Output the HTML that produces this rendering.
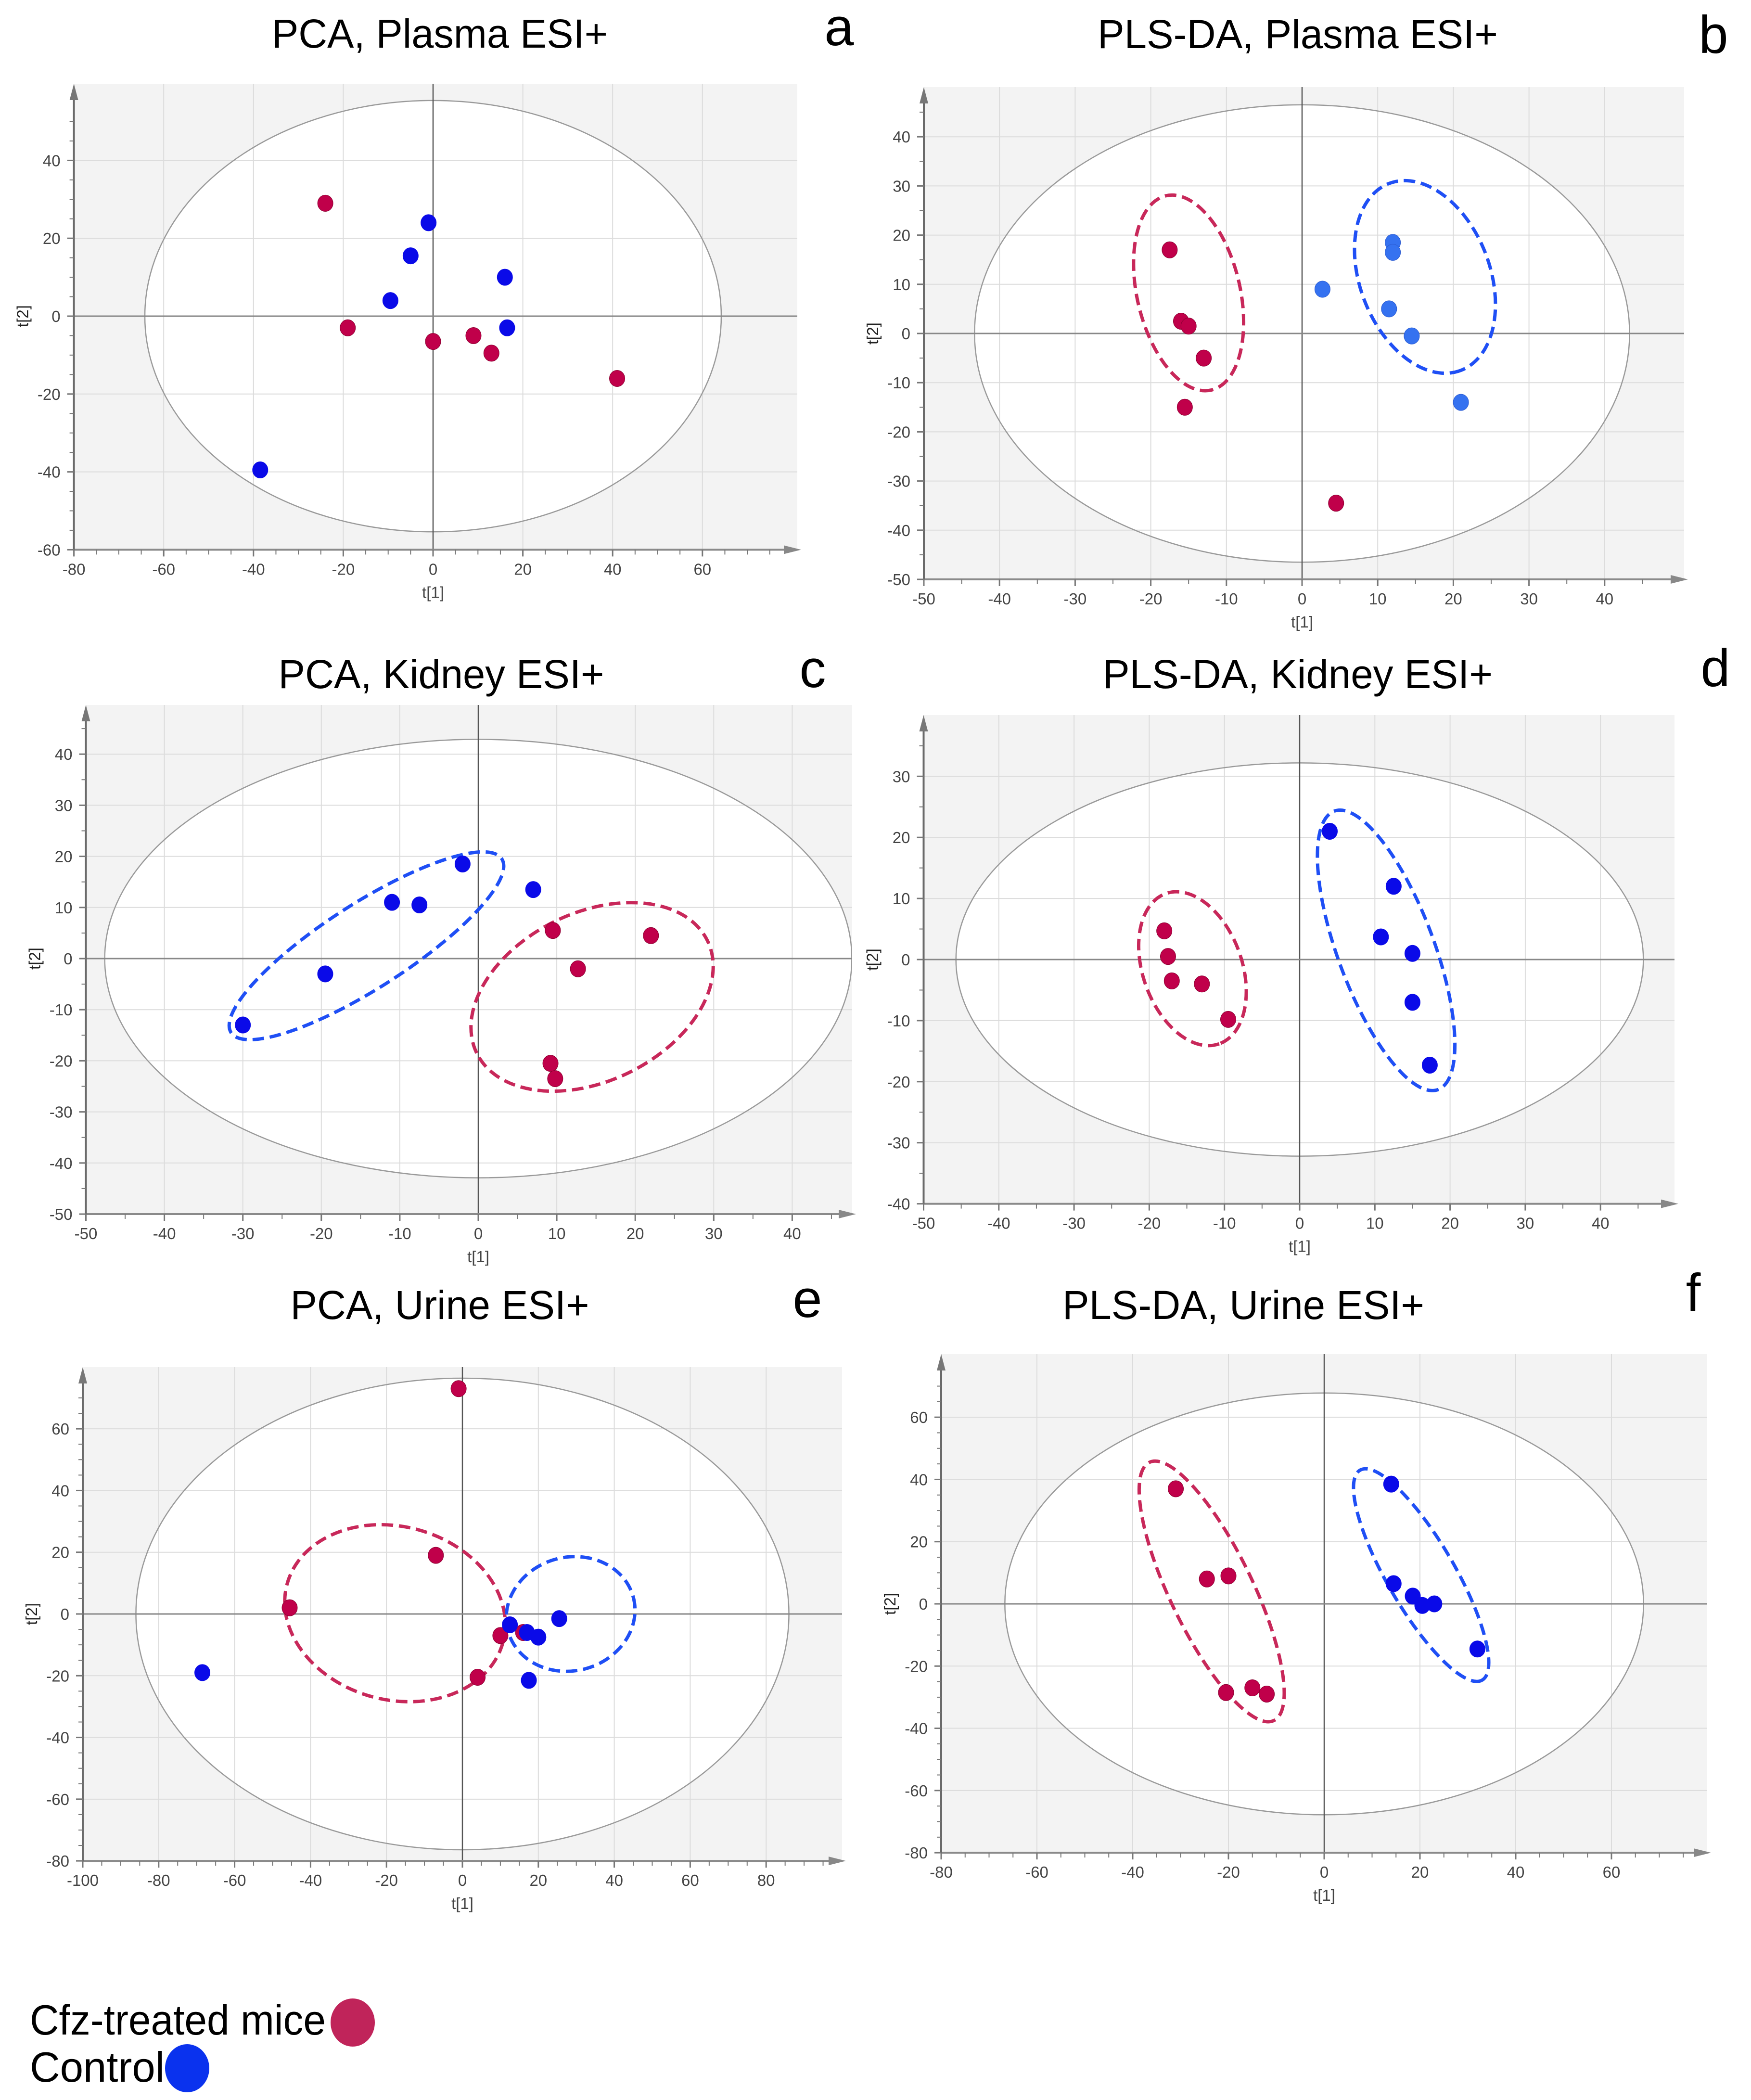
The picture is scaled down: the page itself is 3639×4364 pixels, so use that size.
<!DOCTYPE html>
<html><head><meta charset="utf-8"><style>
html,body{margin:0;padding:0;background:#fff;}
svg{display:block;font-family:"Liberation Sans",Arial,sans-serif;}
</style></head><body>
<svg id="fig" width="3639" height="4364" viewBox="0 0 3639 4364" xmlns="http://www.w3.org/2000/svg">
<rect x="0" y="0" width="3639" height="4364" fill="#fff"/>
<g>
  <text x="62" y="4228" font-size="88" fill="#000" textLength="615" lengthAdjust="spacingAndGlyphs">Cfz-treated mice</text>
  <ellipse cx="733" cy="4203" rx="46" ry="50" fill="#c0245a"/>
  <text x="62" y="4326" font-size="88" fill="#000" textLength="280" lengthAdjust="spacingAndGlyphs">Control</text>
  <ellipse cx="389" cy="4298" rx="46" ry="50" fill="#0a32ee"/>
</g>
</svg>
<script>
// ---- Data: panel a (PCA, Plasma) ----
const aRedX=[-24,-19,0,9,13,41];
const aRedY=[29,-3,-6.5,-5,-9.5,-16];
const aBlueX=[-1,-5,-9.5,16,16.5,-38.5];
const aBlueY=[24,15.5,4,10,-3,-39.5];
const aXTicks=[-80,-60,-40,-20,0,20,40,60];
const aYTicks=[-60,-40,-20,0,20,40];
const aT2=[64.2,55.4];
// ---- panel b (PLS-DA, Plasma) ----
const bRedX=[-17.5,-16,-15,-13,-15.5,4.5];
const bRedY=[17,2.5,1.5,-5,-15,-34.5];
const bBlueX=[12,12,2.7,11.5,14.5,21];
const bBlueY=[18.5,16.5,9,5,-0.5,-14];
const bXTicks=[-50,-40,-30,-20,-10,0,10,20,30,40];
const bYTicks=[-50,-40,-30,-20,-10,0,10,20,30,40];
const bT2=[43.3,46.5];
const bRedGroup=[-18,28,-12,-11.5];
const bBlueGroup=[11.5,30.5,21,-7.5];
// ---- panel c (PCA, Kidney) ----
const cRedX=[9.5,22,12.7,9.2,9.8];
const cRedY=[5.5,4.5,-2,-20.5,-23.5];
const cBlueX=[-30,-19.5,-11,-7.5,-2,7];
const cBlueY=[-13,-3,11,10.5,18.5,13.5];
const cXTicks=[-50,-40,-30,-20,-10,0,10,20,30,40];
const cYTicks=[-50,-40,-30,-20,-10,0,10,20,30,40];
const cT2=[47.6,42.9];
const cRedGroup=[29.2,3.5,-0.2,-18.5];
const cBlueGroup=[-31.5,-14.5,3,19.5];
// ---- panel d (PLS-DA, Kidney) ----
const dRedX=[-18,-17.5,-17,-13,-9.5];
const dRedY=[4.7,0.5,-3.5,-4,-9.8];
const dBlueX=[4,12.5,10.8,15,15,17.3];
const dBlueY=[21,12,3.7,1,-7,-17.3];
const dXTicks=[-50,-40,-30,-20,-10,0,10,20,30,40];
const dYTicks=[-40,-30,-20,-10,0,10,20,30];
const dT2=[45.7,32.2];
const dRedGroup=[-17.8,10.8,-10.7,-13.8];
const dBlueGroup=[4.6,24.3,18.4,-21.3];
// ---- panel e (PCA, Urine) ----
const eRedX=[-1,-7,-45.5,10,16,4];
const eRedY=[73,19,2,-7,-6,-20.5];
const eBlueX=[-68.5,12.5,17,20,25.5,17.5];
const eBlueY=[-19,-3.5,-6,-7.5,-1.5,-21.5];
const eXTicks=[-100,-80,-60,-40,-20,0,20,40,60,80];
const eYTicks=[-80,-60,-40,-20,0,20,40,60];
const eT2=[86,76.4];
const eRedGroup=[-46.2,9.6,10.7,-9.1];
const eBlueGroup=[12,-5.5,45,5.5];
// ---- panel f (PLS-DA, Urine) ----
const fRedX=[-31,-24.5,-20,-20.5,-15,-12];
const fRedY=[37,8,9,-28.5,-27,-29];
const fBlueX=[14,14.5,18.5,20.5,23,32];
const fBlueY=[38.5,6.5,2.5,-0.5,0,-14.5];
const fXTicks=[-80,-60,-40,-20,0,20,40,60];
const fYTicks=[-80,-60,-40,-20,0,20,40,60];
const fT2=[66.7,67.8];
const fRedGroup=[-36.5,45.5,-10.5,-37.5];
const fBlueGroup=[7.5,43,33,-24.5];

const NS='http://www.w3.org/2000/svg';
const svg=document.getElementById('fig');
function mk(tag,attrs,parent){const e=document.createElementNS(NS,tag);for(const k in attrs)e.setAttribute(k,attrs[k]);(parent||svg).appendChild(e);return e;}

const panels=[
 {id:'a',title:'PCA, Plasma ESI+',tx:914,tw:698,ty:99,lx:1744,ly:94,x0:900,sx:9.33,y0:657,sy:8.09,top:174,right:1657,xt:aXTicks,yt:aYTicks,t2:aT2,rx:aRedX,ry:aRedY,bx:aBlueX,by:aBlueY,blue:'#0a0ae8',rg:null,bg:null,xminor:4,yminor:4},
 {id:'b',title:'PLS-DA, Plasma ESI+',tx:2697,tw:832,ty:100,lx:3561,ly:110,x0:2706,sx:15.72,y0:693,sy:10.22,top:181,right:3500,xt:bXTicks,yt:bYTicks,t2:bT2,rx:bRedX,ry:bRedY,bx:bBlueX,by:bBlueY,blue:'#3572f0',rg:bRedGroup,rgw:107,bg:bBlueGroup,bgw:135,xminor:2,yminor:2},
 {id:'c',title:'PCA, Kidney ESI+',tx:917,tw:677,ty:1430,lx:1689,ly:1428,x0:994,sx:16.31,y0:1992,sy:10.62,top:1465,right:1771,xt:cXTicks,yt:cYTicks,t2:cT2,rx:cRedX,ry:cRedY,bx:cBlueX,by:cBlueY,blue:'#0a0ae8',rg:cRedGroup,rgw:175,bg:cBlueGroup,bgw:88,xminor:2,yminor:2},
 {id:'d',title:'PLS-DA, Kidney ESI+',tx:2697,tw:810,ty:1430,lx:3565,ly:1426,x0:2701,sx:15.63,y0:1994,sy:12.69,top:1486,right:3480,xt:dXTicks,yt:dYTicks,t2:dT2,rx:dRedX,ry:dRedY,bx:dBlueX,by:dBlueY,blue:'#0a0ae8',rg:dRedGroup,rgw:103,bg:dBlueGroup,bgw:100,xminor:2,yminor:2},
 {id:'e',title:'PCA, Urine ESI+',tx:914,tw:621,ty:2741,lx:1678,ly:2737,x0:961,sx:7.89,y0:3354,sy:6.414,top:2841,right:1750,xt:eXTicks,yt:eYTicks,t2:eT2,rx:eRedX,ry:eRedY,bx:eBlueX,by:eBlueY,blue:'#0a0ae8',rg:eRedGroup,rgw:180,bg:eBlueGroup,bgw:118,xminor:4,yminor:4},
 {id:'f',title:'PLS-DA, Urine ESI+',tx:2584,tw:752,ty:2741,lx:3519,ly:2724,x0:2752,sx:9.95,y0:3333,sy:6.464,top:2814,right:3548,xt:fXTicks,yt:fYTicks,t2:fT2,rx:fRedX,ry:fRedY,bx:fBlueX,by:fBlueY,blue:'#0a0ae8',rg:fRedGroup,rgw:86,bg:fBlueGroup,bgw:70,xminor:4,yminor:4}
];

panels.forEach(p=>{
  const X=v=>p.x0+v*p.sx, Y=v=>p.y0-v*p.sy;
  const g=mk('g',{});
  
  
  const left=X(p.xt[0]), bottom=Y(p.yt[0]);
  const clipId='clip'+p.id;
  const cp=mk('clipPath',{id:clipId},g);
  mk('rect',{x:left,y:p.top,width:p.right-left,height:bottom-p.top},cp);
  const bg=mk('rect',{x:left,y:p.top,width:p.right-left,height:bottom-p.top,fill:'#f3f3f3'},g);
  
  
  const inner=mk('g',{'clip-path':'url(#'+clipId+')'},g);
  const t2=mk('ellipse',{cx:X(0),cy:Y(0),rx:p.t2[0]*p.sx,ry:p.t2[1]*p.sy,fill:'#fff'},inner);
  
  
  p.xt.forEach(v=>{ if(v!==0){const l=mk('line',{x1:X(v),x2:X(v),y1:p.top,y2:bottom,stroke:'#dcdcdc','stroke-width':2},inner);
    
    }});
  p.yt.forEach(v=>{ if(v!==0){const l=mk('line',{x1:left,x2:p.right,y1:Y(v),y2:Y(v),stroke:'#dcdcdc','stroke-width':2},inner);
    
    }});
  const t2s=mk('ellipse',{cx:X(0),cy:Y(0),rx:p.t2[0]*p.sx,ry:p.t2[1]*p.sy,fill:'none',stroke:'#9a9a9a','stroke-width':2.5},inner);
  
  
  const zx=mk('line',{x1:X(0),x2:X(0),y1:p.top,y2:bottom,stroke:'#555','stroke-width':2.5},inner);
  
  
  const zy=mk('line',{x1:left,x2:p.right,y1:Y(0),y2:Y(0),stroke:'#888','stroke-width':3},inner);
  
  
  const ax=mk('line',{x1:left,x2:p.right-10,y1:bottom,y2:bottom,stroke:'#8a8a8a','stroke-width':4},g);
  
  
  const ay=mk('line',{x1:left,x2:left,y1:p.top+30,y2:bottom,stroke:'#6a6a6a','stroke-width':4},g);
  
  
  const arx=mk('polygon',{points:`${p.right+8},${bottom} ${p.right-28},${bottom-9} ${p.right-28},${bottom+9}`,fill:'#888'},g);
  
  
  const ary=mk('polygon',{points:`${left},${p.top} ${left-9},${p.top+34} ${left+9},${p.top+34}`,fill:'#777'},g);
  
  
  const xs=p.xt[1]-p.xt[0], ys=p.yt[1]-p.yt[0];
  for(let v=p.xt[0]; X(v)<p.right-30; v+=xs/p.xminor){
    const major=Math.abs((v-p.xt[0])/xs-Math.round((v-p.xt[0])/xs))<1e-6;
    const t=mk('line',{x1:X(v),x2:X(v),y1:bottom,y2:bottom+(major?14:10),stroke:'#777','stroke-width':major?3:2},g);
    
    
  }
  for(let v=p.yt[0]; Y(v)>p.top+40; v+=ys/p.yminor){
    const major=Math.abs((v-p.yt[0])/ys-Math.round((v-p.yt[0])/ys))<1e-6;
    const t=mk('line',{x1:left-(major?14:9),x2:left,y1:Y(v),y2:Y(v),stroke:'#777','stroke-width':major?3:2},g);
    
    
  }
  p.xt.forEach(v=>{const t=mk('text',{x:X(v),y:bottom+52,'font-size':33,fill:'#444','text-anchor':'middle'},g);t.textContent=v;
    
    });
  p.yt.forEach(v=>{const t=mk('text',{x:left-28,y:Y(v)+12,'font-size':33,fill:'#444','text-anchor':'end'},g);t.textContent=v;
    
    });
  const xt=mk('text',{x:X(0),y:bottom+100,'font-size':33,fill:'#444','text-anchor':'middle'},g);xt.textContent='t[1]';
  
  
  const yx=left-95, yy=Y(0);
  const yt=mk('text',{x:yx,y:yy,'font-size':33,fill:'#222','text-anchor':'middle',transform:`rotate(-90 ${yx} ${yy})`},g);yt.textContent='t[2]';
  
  
  function group(arr,w,color,name){
    if(!arr) return;
    const x1=X(arr[0]),y1=Y(arr[1]),x2=X(arr[2]),y2=Y(arr[3]);
    const cx=(x1+x2)/2, cy=(y1+y2)/2, L=Math.hypot(x2-x1,y2-y1)/2, ang=Math.atan2(y2-y1,x2-x1)*180/Math.PI;
    const e=mk('ellipse',{cx:cx,cy:cy,rx:L,ry:w,fill:'none',stroke:color,'stroke-width':7,'stroke-dasharray':'24 12',transform:`rotate(${ang} ${cx} ${cy})`},g);
    
    
  }
  group(p.rg,p.rgw,'#c8285a','cfz-group-ellipse');
  group(p.bg,p.bgw,'#1f4ff5','control-group-ellipse');
  p.rx.forEach((v,i)=>{const c=mk('ellipse',{cx:X(v),cy:Y(p.ry[i]),rx:16,ry:17,fill:'#c0004a',stroke:'#8a0030','stroke-width':1},g);
    
    });
  p.bx.forEach((v,i)=>{const c=mk('ellipse',{cx:X(v),cy:Y(p.by[i]),rx:16,ry:17,fill:p.blue,stroke:p.blue==='#3572f0'?'#2a5ad0':p.blue,'stroke-width':1},g);
    
    });
  const tt=mk('text',{x:p.tx,y:p.ty,'font-size':84,fill:'#000','text-anchor':'middle',textLength:p.tw,lengthAdjust:'spacingAndGlyphs'},g);tt.textContent=p.title;
  
  
  const lt=mk('text',{x:p.lx,y:p.ly,'font-size':110,fill:'#000','text-anchor':'middle'},g);lt.textContent=p.id;
  
  
});
</script>
</body></html>
